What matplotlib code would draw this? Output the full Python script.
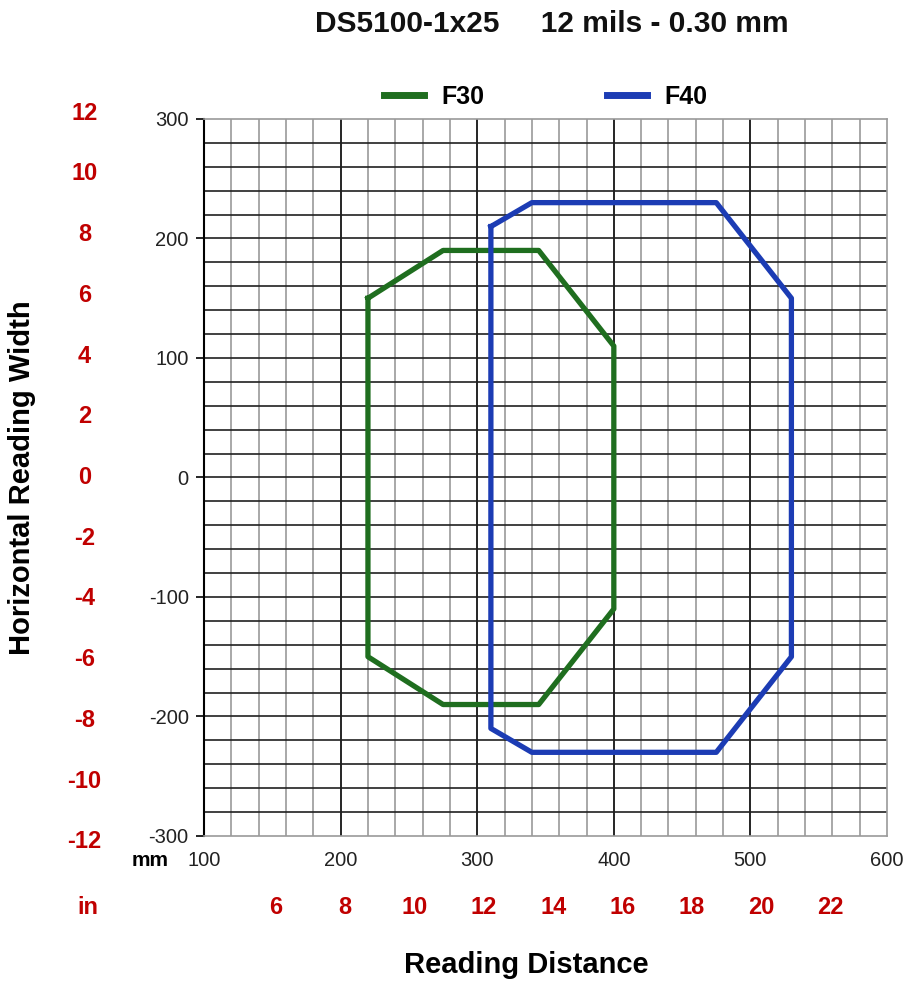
import numpy as np
import matplotlib
matplotlib.use("Agg")
import matplotlib.pyplot as plt

plt.rcParams['font.family'] = ['Liberation Sans', 'DejaVu Sans']
plt.rcParams['axes.unicode_minus'] = False

# reading zones (mm)
f30_x = [220, 275, 345, 400, 400, 345, 275, 220, 220]
f30_y = [150, 190, 190, 110, -110, -190, -190, -150, 150]
f40_x = [310, 340, 475, 530, 530, 475, 340, 310, 310]
f40_y = [210, 230, 230, 150, -150, -230, -230, -210, 210]

inch_y = [12, 10, 8, 6, 4, 2, 0, -2, -4, -6, -8, -10, -12]
inch_x = [6, 8, 10, 12, 14, 16, 18, 20, 22]

fig = plt.figure(figsize=[9.08, 9.85], dpi=100)
ax = fig.add_axes([0.2247, 0.1513, 0.7522, 0.7279])
ax.set_xlim(100, 600)
ax.set_ylim(-300, 300)

# grid
for x in np.arange(120, 600, 20):
    if x % 100 == 0:
        ax.axvline(x, color='black', lw=1.2, zorder=1)
    else:
        ax.axvline(x, color='#9a9a9a', lw=1.2, zorder=1)
for y in np.arange(-280, 300, 20):
    ax.axhline(y, color='#202020', lw=1.2, zorder=1)

ax.plot(f30_x, f30_y, color='#1f6e1f', lw=3.8, label='F30', zorder=3)
ax.plot(f40_x, f40_y, color='#1c3cb4', lw=3.8, label='F40', zorder=3)

for s in ['top', 'right', 'bottom']:
    ax.spines[s].set_color('#9a9a9a')
    ax.spines[s].set_linewidth(1.2)
ax.spines['left'].set_color('black')
ax.spines['left'].set_linewidth(1.5)

ax.set_xticks([100, 200, 300, 400, 500, 600])
ax.set_yticks([-300, -200, -100, 0, 100, 200, 300])
ax.tick_params(axis='x', length=0, pad=11, labelsize=14.5, labelcolor='#222222')
ax.tick_params(axis='y', length=6, width=1.2, pad=5, labelsize=14.5, labelcolor='#222222')

# inch scales
for v in inch_y:
    ax.text(-0.175, v * 25.4, str(v), transform=ax.get_yaxis_transform(),
            ha='center', va='center', color='#c00000', fontsize=17, fontweight='bold')
for v in inch_x:
    ax.text(v * 25.4, -0.1, str(v), transform=ax.get_xaxis_transform(),
            ha='center', va='center', color='#c00000', fontsize=17, fontweight='bold')
fig.text(88 / 908, 1 - 908 / 985, 'in', ha='center', va='center',
         color='#c00000', fontsize=17, fontweight='bold')
fig.text(150 / 908, 1 - 860 / 985, 'mm', ha='center', va='center',
         color='black', fontsize=15, fontweight='bold')

fig.text(552 / 908, 1 - 24 / 985, 'DS5100-1x25     12 mils - 0.30 mm',
         ha='center', va='center', fontsize=21.5, fontweight='bold', color='#111111')
fig.text(526 / 908, 1 - 965 / 985, 'Reading Distance', ha='center', va='center',
         fontsize=21, fontweight='bold')
fig.text(22 / 908, 1 - 478 / 985, 'Horizontal Reading Width', ha='center', va='center',
         rotation=90, fontsize=21, fontweight='bold')

leg = fig.legend(loc='center', bbox_to_anchor=(546 / 908, 1 - 97 / 985), ncol=2,
                 frameon=False, handlelength=1.6, handletextpad=0.7, columnspacing=4.9,
                 prop={'weight': 'bold', 'size': 18})
for h in leg.get_lines():
    h.set_linewidth(5)

fig.savefig('out.png', dpi=100)
